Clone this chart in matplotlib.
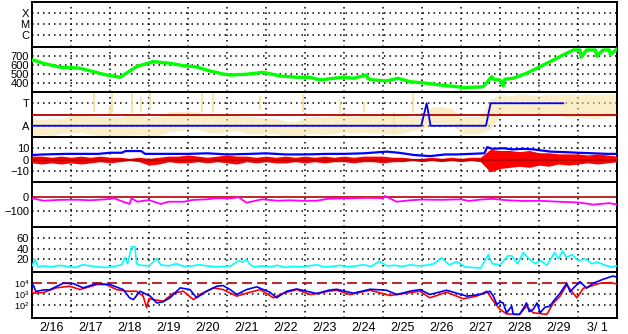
import numpy as np
import matplotlib
matplotlib.use("Agg")
import matplotlib.pyplot as plt

plt.rcParams["font.family"] = ["Liberation Sans", "DejaVu Sans"]
plt.rcParams["mathtext.fontset"] = "custom"
plt.rcParams["mathtext.rm"] = "Liberation Sans"

# x axis: days since 2/16 00:00
day_labels = ["2/16", "2/17", "2/18", "2/19", "2/20", "2/21", "2/22", "2/23",
              "2/24", "2/25", "2/26", "2/27", "2/28", "2/29", "3/ 1"]

# solar wind speed (green)
speed_t = [0.0, 0.03, 0.29, 0.72, 1.0, 1.23, 1.57, 1.91, 2.26, 2.51, 2.68, 3.1, 3.54,
           3.88, 4.22, 4.56, 4.9, 5.08, 5.5, 5.93, 6.36, 6.79, 7.13, 7.38, 7.6, 7.98,
           8.24, 8.58, 8.62, 8.75, 9.1, 9.38, 9.69, 10.12, 10.46, 10.89, 11.06, 11.57,
           11.79, 11.85, 12.0, 12.08, 12.12, 12.34, 12.68, 13.03, 13.37, 13.62, 13.88,
           14.05, 14.08, 14.22, 14.45, 14.48, 14.64, 14.8, 14.83, 15.0]
speed = [650, 659, 622, 578, 574, 567, 529, 492, 467, 537, 585, 640, 622,
         596, 581, 537, 503, 492, 500, 522, 481, 467, 467, 437, 448, 467,
         456, 492, 450, 437, 426, 456, 418, 400, 381, 362, 351, 362,
         474, 440, 437, 370, 445, 456, 511, 585, 659, 715, 770,
         770, 690, 770, 770, 700, 770, 770, 720, 781]

# IMF sector (blue) and phi angle band (yellow), degrees
sector_t = [0.0, 9.98, 10.12, 10.22, 11.64, 11.76, 13.62]
sector = [90, 90, 270, 90, 90, 270, 270]
phi_t = np.arange(0, 15.01, 0.25)
phi_lo = [10, 20, 10, 30, 30, 40, 20, 10, 5, 0, 15, 20, 10, 15, 40, 50, 60, 60, 40, 30,
          40, 50, 30, 20, 30, 25, 0, 0, 20, 30, 20, 30, 40, 30, 40, 30, 30, 20, 30, 50,
          60, 110, 110, 100, 30, 20, 30, 60, 170, 180, 170, 180, 175, 170, 180, 150,
          160, 150, 150, 160, 160]
phi_hi = [150, 140, 150, 145, 170, 190, 170, 160, 165, 160, 175, 170, 160, 165, 200, 205,
          205, 200, 180, 175, 175, 170, 165, 160, 150, 150, 125, 120, 160, 165, 160, 170,
          175, 165, 175, 170, 180, 185, 175, 165, 160, 240, 245, 230, 160, 165, 160, 300,
          340, 330, 345, 340, 330, 345, 340, 345, 340, 345, 340, 345, 340]
phi_spike_t = [1.6, 2.0, 2.05, 2.56, 2.8, 3.03, 4.35, 4.65, 5.85, 6.95, 7.9, 8.5, 9.27, 9.78]
phi_spike_lo = [200, 180, 190, 190, 200, 220, 200, 190, 220, 200, 190, 200, 40, 190]
phi_spike_hi = [350, 260, 350, 350, 320, 350, 350, 350, 330, 345, 300, 280, 200, 350]

# IMF Bt (blue) and Bz envelope (red), nT
bt_t = [0, 0.3, 0.9, 1.7, 2.0, 2.3, 2.4, 2.8, 2.9, 3.3, 4.0, 4.5, 5.0, 5.6, 6.0, 6.5,
        7.0, 7.6, 8.0, 8.5, 8.9, 9.1, 9.4, 9.8, 10.2, 10.6, 10.9, 11.6, 11.67, 11.8,
        12.1, 12.3, 12.6, 12.85, 13.3, 13.7, 14.0, 14.4, 14.75, 15.0]
bt = [4, 4.5, 5, 5, 6, 6, 7.5, 7.5, 5, 5, 5, 5.5, 4.5, 5, 5.5, 4.5,
      4.5, 5, 5, 5.5, 6.5, 7, 6, 4, 3, 4.5, 4.5, 5.5, 11, 9.5,
      10, 9, 9.5, 9, 7, 6.5, 6, 5.5, 5, 5]
bz_t = np.arange(0, 15.01, 0.25)
bz_lo = [-3, -4, -3, -4, -3, -4, -3, -2, -3, -2, -1, -2, -5, -4, -2, -3, -3, -2, -3, -2,
         -3, -4, -2, -3, -2, -3, -3, -2, -3, -2, -3, -2, -2, -3, -2, -2, -3, -2, -2, -1,
         -2, -1, -2, -1, -2, -1, -2, -11, -8, -7, -6, -7, -5, -6, -4, -5, -4, -3, -4,
         -3, -2]
bz_hi = [3, 3, 2, 3, 2, 3, 2, 3, 2, 2, 1, 2, 1, 2, 3, 3, 4, 3, 2, 3,
         4, 3, 3, 2, 3, 2, 3, 2, 3, 2, 3, 2, 3, 2, 3, 3, 3, 2, 2, 1,
         1, 2, 1, 2, 1, 2, 2, 9, 8, 8, 7, 8, 6, 6, 5, 5, 5, 4, 5,
         4, 3]

# Dst (magenta), nT
dst_t = [0, 0.3, 0.7, 1.15, 1.5, 1.9, 2.1, 2.5, 2.55, 2.7, 3.0, 3.3, 3.5, 3.9, 4.1, 4.5,
         4.7, 5.1, 5.3, 5.5, 5.9, 6.3, 6.6, 6.9, 7.3, 7.6, 8.2, 8.6, 9.0, 9.05, 9.35,
         9.7, 10.0, 10.5, 11.0, 11.2, 11.5, 11.8, 12.2, 12.6, 13.0, 13.5, 14.0, 14.4,
         14.8, 15.0]
dst = [-11, -28, -22, -21, -25, -18, -11, -51, -11, -35, -23, -51, -35, -35, -23, -18,
       -11, -11, -4, -42, -18, -28, -25, -28, -28, -14, -11, -8, -10, 5, -35,
       -25, -20, -22, -18, -30, -20, -15, -25, -30, -28, -35, -40, -55,
       -45, -55]

# AE-like index (cyan)
ae_t = [0, 0.08, 0.15, 0.3, 0.5, 0.7, 0.9, 1.1, 1.3, 1.5, 1.7, 1.9, 2.1, 2.3, 2.38,
        2.45, 2.55, 2.64, 2.68, 2.8, 3.0, 3.2, 3.3, 3.5, 3.7, 3.9, 4.1, 4.3, 4.5, 4.7,
        4.9, 5.1, 5.3, 5.4, 5.5, 5.6, 5.7, 5.9, 6.1, 6.3, 6.5, 6.7, 6.9, 7.1, 7.3,
        7.5, 7.7, 7.9, 8.1, 8.3, 8.5, 8.7, 8.9, 9.1, 9.3, 9.5, 9.7, 9.9, 10.1, 10.3,
        10.5, 10.7, 10.9, 11.1, 11.3, 11.5, 11.7, 11.8, 12.0, 12.2, 12.3, 12.45, 12.6,
        12.75, 12.9, 13.05, 13.2, 13.4, 13.5, 13.6, 13.7, 13.85, 14.0, 14.2, 14.35,
        14.5, 14.7, 14.85, 15.0]
ae = [8, 20, 6, 8, 6, 9, 7, 5, 10, 8, 6, 5, 7, 10, 24,
      12, 44, 44, 12, 9, 8, 22, 10, 8, 12, 7, 8, 10, 8, 6,
      7, 8, 18, 15, 20, 10, 6, 8, 6, 9, 5, 7, 6, 8, 10,
      6, 7, 9, 6, 8, 10, 7, 17, 8, 9, 7, 10, 8, 9, 12,
      23, 10, 16, 6, 5, 4, 29, 12, 10, 27, 27, 12, 33,
      21, 12, 18, 9, 33, 21, 36, 24, 29, 18, 21, 12,
      15, 9, 6, 8]

# electron flux (log10), two satellites
e_blue_t = [0.0, 0.03, 0.1, 0.29, 0.45, 0.8, 1.06, 1.31, 1.66, 2.0, 2.34, 2.5, 2.6, 2.77,
            3.03, 3.2, 3.36, 3.54, 3.8, 4.05, 4.22, 4.48, 4.74, 4.9, 5.08, 5.25, 5.5,
            5.76, 6.1, 6.27, 6.53, 6.79, 7.04, 7.3, 7.6, 7.81, 8.24, 8.67, 9.09, 9.35,
            9.69, 9.95, 10.2, 10.63, 10.89, 11.15, 11.49, 11.74, 11.83, 11.92, 12.0,
            12.08, 12.17, 12.3, 12.34, 12.5, 12.6, 12.68, 12.75, 12.85, 12.95, 13.03,
            13.15, 13.28, 13.37, 13.54, 13.71, 13.8, 13.88, 14.05, 14.22, 14.39, 14.64,
            14.9, 15.0]
e_blue = [3.7, 3.85, 3.24, 3.39, 3.4, 4.0, 3.97, 3.58, 3.97, 3.88, 3.42, 2.67, 2.5, 3.27,
          2.82, 2.2, 2.3, 2.67, 3.58, 3.42, 2.67, 3.27, 3.73, 3.79, 3.42, 2.97, 3.42,
          3.67, 3.18, 2.67, 3.27, 3.48, 3.27, 3.06, 3.36, 3.45, 3.09, 3.45, 3.36, 2.97,
          3.27, 3.42, 2.97, 3.36, 3.09, 2.82, 2.97, 3.27, 2.82, 2.06, 2.3,
          2.2, 1.3, 1.9, 1.15, 1.15, 1.7, 2.2, 1.4, 1.6, 2.2, 1.3,
          1.8, 1.9, 2.36, 3.09, 4.0, 3.2, 3.55, 4.15, 3.55, 4.0, 4.36,
          4.67, 4.55]
e_red_t = [0.0, 0.03, 0.29, 0.62, 0.97, 1.23, 1.66, 1.9, 2.17, 2.43, 2.68, 2.85, 2.94,
           3.0, 3.11, 3.37, 3.62, 3.88, 4.14, 4.3, 4.65, 4.9, 5.25, 5.5, 5.85, 6.19,
           6.44, 6.79, 7.13, 7.38, 7.6, 7.81, 8.15, 8.67, 9.18, 9.6, 9.95, 10.2, 10.63,
           11.06, 11.4, 11.66, 11.83, 12.0, 12.17, 12.5, 12.68, 12.85, 13.2, 13.37,
           13.54, 13.71, 13.97, 14.14, 14.3, 14.56, 14.82, 15.0]
e_red = [3.3, 3.09, 3.15, 3.58, 3.73, 3.42, 3.88, 3.88, 3.42, 3.27, 3.27, 2.82, 1.76,
         2.6, 2.5, 2.36, 3.09, 3.27, 2.5, 2.97, 3.58, 3.42, 2.82, 3.09, 3.42, 2.67,
         3.09, 3.42, 2.97, 3.09, 3.27, 3.36, 2.97, 3.36, 2.88, 3.09, 3.27, 2.67, 3.18,
         2.58, 2.82, 3.27, 2.36, 1.6, 1.2, 1.15, 1.9, 1.3, 1.15, 2.2,
         2.82, 3.85, 2.67, 3.55, 3.7, 4.0, 4.06, 3.94]

W, H = 628, 334
tops = [2, 47, 92, 137, 182, 227, 272]
bots = [47, 92, 137, 182, 227, 272, 318]
DOT = (0, (1, 2.6))
DARKRED = "#b40000"
YELLOW = "#f5e19a"

fig = plt.figure(figsize=(W / 100, H / 100), dpi=100)
axes = []
for top, bot in zip(tops, bots):
    ax = fig.add_axes([32 / W, 1 - bot / H, 585 / W, (bot - top) / H])
    ax.set_xlim(0, 15)
    for s in ax.spines.values():
        s.set_linewidth(1.4)
    ax.tick_params(axis="both", length=0, labelsize=8, pad=2)
    ax.set_xticks([])
    for d in range(1, 15):
        ax.axvline(d, color="k", ls=DOT, lw=1.1, zorder=1)
    axes.append(ax)

# flare classes
ax = axes[0]
ax.set_yscale("log")
ax.set_ylim(10 ** -7.12, 10 ** -2.94)
ax.set_yticks([1e-4, 1e-5, 1e-6])
ax.set_yticklabels(["X", "M", "C"])
ax.minorticks_off()
for v in [1e-4, 1e-5, 1e-6]:
    ax.axhline(v, color="k", ls=DOT, lw=1.1, zorder=1)

# speed
ax = axes[1]
ax.set_ylim(303, 803)
ax.set_yticks([700, 600, 500, 400])
for v in [700, 600, 500, 400]:
    ax.axhline(v, color="k", ls=DOT, lw=1.1, zorder=1)
ax.plot(speed_t, speed, color="#00ff00", lw=2.4, zorder=3)

# sector / phi
ax = axes[2]
ax.set_ylim(0, 360)
ax.set_yticks([270, 90])
ax.set_yticklabels(["T", "A"])
ax.fill_between(phi_t, phi_lo, phi_hi, color=YELLOW, alpha=0.55, lw=0, zorder=2)
ax.vlines(phi_spike_t, phi_spike_lo, phi_spike_hi, color=YELLOW, lw=1.2, zorder=2)
for v in [270, 90]:
    ax.axhline(v, color="k", ls=DOT, lw=1.1, zorder=1)
ax.axhline(180, color=DARKRED, lw=1.3, zorder=3)
ax.plot(sector_t, sector, color="#0000ff", lw=1.3, zorder=4)

# Bt / Bz
ax = axes[3]
ax.set_ylim(-20, 20)
ax.set_yticks([10, 0, -10])
for v in [10, -10]:
    ax.axhline(v, color="k", ls=DOT, lw=1.1, zorder=1)
ax.plot(bt_t, bt, color="#0000ff", lw=1.6, zorder=3)
ax.fill_between(bz_t, bz_lo, bz_hi, color="#ff0000", lw=0, zorder=4)
ax.axhline(0, color=DARKRED, lw=1.2, zorder=5)

# Dst
ax = axes[4]
ax.set_ylim(-212, 103)
ax.set_yticks([0, -100])
ax.axhline(-100, color="k", ls=DOT, lw=1.1, zorder=1)
ax.axhline(0, color=DARKRED, lw=1.2, zorder=2)
ax.plot(dst_t, dst, color="#ff00ff", lw=1.3, zorder=3)

# AE
ax = axes[5]
ax.set_ylim(-3.5, 81)
ax.set_yticks([60, 40, 20])
for v in [60, 40, 20]:
    ax.axhline(v, color="k", ls=DOT, lw=1.1, zorder=1)
ax.plot(ae_t, ae, color="#00ffff", lw=1.2, zorder=3)

# electrons
ax = axes[6]
ax.set_yscale("log")
ax.set_ylim(10 ** 0.82, 10 ** 5.03)
ax.set_yticks([1e4, 1e3, 1e2])
ax.set_yticklabels([r"$\mathregular{10^4}$", r"$\mathregular{10^3}$", r"$\mathregular{10^2}$"])
ax.tick_params(axis="y", labelsize=6.6)
ax.minorticks_off()
for v in [1e3, 1e2]:
    ax.axhline(v, color="k", ls=DOT, lw=1.1, zorder=1)
ax.axhline(1e4, color=DARKRED, ls=(0, (6, 3)), lw=1.2, zorder=2)
ax.plot(e_red_t, 10 ** np.array(e_red), color="#ff0000", lw=1.2, zorder=3)
ax.plot(e_blue_t, 10 ** np.array(e_blue), color="#0000ff", lw=1.2, zorder=4)
ax.set_xticks(np.arange(15) + 0.5)
ax.set_xticklabels(day_labels, fontsize=9)
ax.tick_params(axis="x", length=0, pad=3)

fig.savefig("out.png", dpi=100)
